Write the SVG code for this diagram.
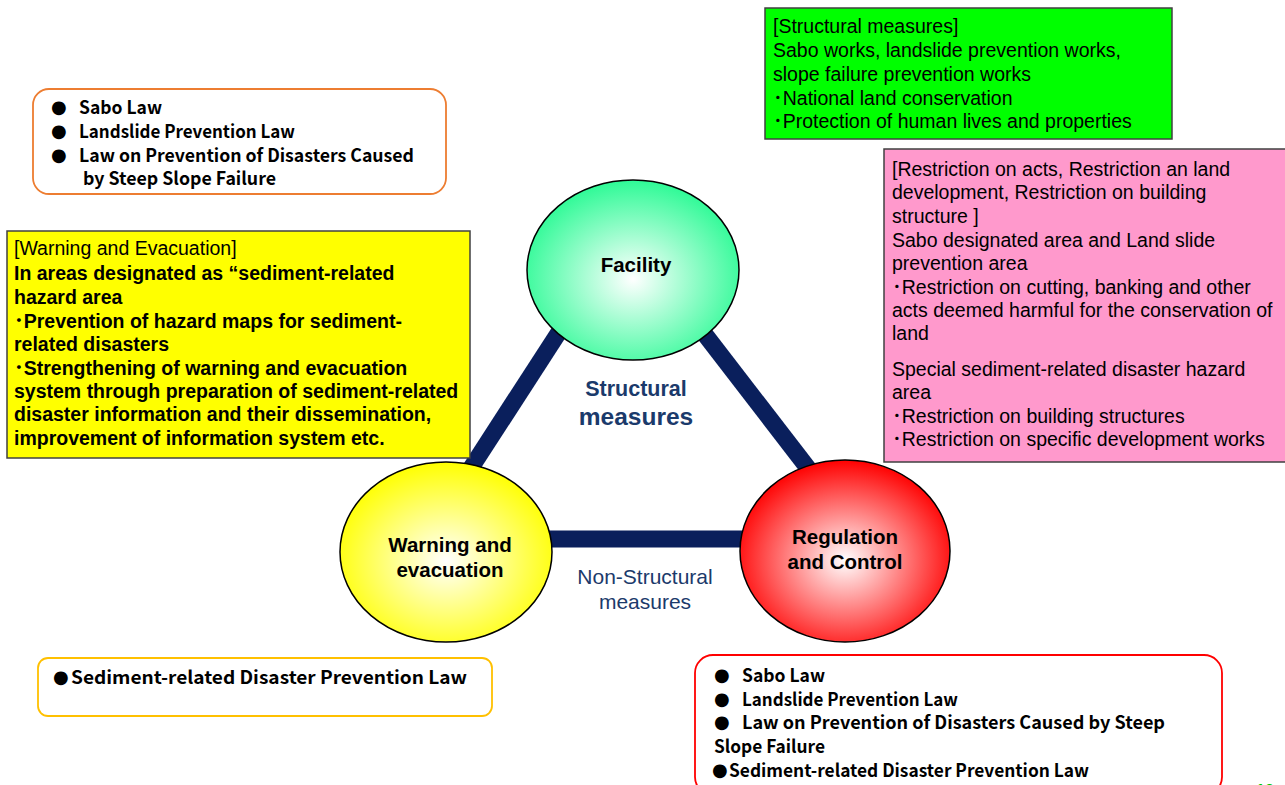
<svg xmlns="http://www.w3.org/2000/svg" width="1285" height="785" viewBox="0 0 1285 785">
  <style>
    .box { stroke: #404040; stroke-width: 1.5; }
    .law { fill: #FFFFFF; stroke-width: 1.8; }
    .gothic { font-family: "Noto Sans CJK JP", "Liberation Sans", sans-serif; font-size: 18px; font-weight: bold; fill: #000; }
    .dot { font-family: "DejaVu Sans", sans-serif; font-size: 18px; fill: #000; }
    .txt { font-family: "Liberation Sans", "Noto Sans CJK JP", sans-serif; font-size: 19.5px; fill: #000; }
    .bold { font-weight: bold; }
    .node { stroke: #000; stroke-width: 1.5; }
    .nodelabel { font-family: "Liberation Sans", Arial, sans-serif; font-size: 20.5px; font-weight: bold; fill: #000; text-anchor: middle; }
    .edge { stroke: #0A1F5C; stroke-width: 17; stroke-linecap: butt; fill: none; }
    .edgelabel { font-family: "Liberation Sans", Arial, sans-serif; fill: #1B3A6B; text-anchor: middle; }
  </style>
  <defs>
    <radialGradient id="gGreen" cx="50%" cy="55%" r="55%">
      <stop offset="0" stop-color="#FFFFFF"/>
      <stop offset="1" stop-color="#2EFA96"/>
    </radialGradient>
    <radialGradient id="gYellow" cx="50%" cy="55%" r="55%">
      <stop offset="0" stop-color="#FFFFFF"/>
      <stop offset="1" stop-color="#FFFF00"/>
    </radialGradient>
    <radialGradient id="gRed" cx="50%" cy="55%" r="55%">
      <stop offset="0" stop-color="#FFFFFF"/>
      <stop offset="1" stop-color="#FF0000"/>
    </radialGradient>
  </defs>

  <rect x="0" y="0" width="1285" height="785" fill="#FFFFFF"/>

  <!-- connectors of the triangle -->
  <g id="connectors">
    <line class="edge" x1="572" y1="312" x2="458" y2="488"/>
    <line class="edge" x1="690" y1="315" x2="824" y2="489"/>
    <line class="edge" x1="540" y1="539" x2="752" y2="539"/>
  </g>

  <!-- edge labels -->
  <g id="label-structural">
    <text class="edgelabel" x="636" y="396" font-size="21.5" font-weight="bold">Structural</text>
    <text class="edgelabel" x="636" y="425" font-size="24.5" font-weight="bold">measures</text>
  </g>
  <g id="label-nonstructural">
    <text class="edgelabel" x="645" y="584" font-size="21">Non-Structural</text>
    <text class="edgelabel" x="645" y="609" font-size="21">measures</text>
  </g>

  <!-- triangle nodes -->
  <g id="node-facility">
    <ellipse class="node" cx="633" cy="270" rx="106" ry="90" fill="url(#gGreen)"/>
    <text class="nodelabel" x="636" y="272">Facility</text>
  </g>
  <g id="node-warning">
    <ellipse class="node" cx="446" cy="552" rx="106" ry="90" fill="url(#gYellow)"/>
    <text class="nodelabel" x="450" y="552">Warning and</text>
    <text class="nodelabel" x="450" y="577">evacuation</text>
  </g>
  <g id="node-regulation">
    <ellipse class="node" cx="845" cy="551" rx="105" ry="91" fill="url(#gRed)"/>
    <text class="nodelabel" x="845" y="544">Regulation</text>
    <text class="nodelabel" x="845" y="569">and Control</text>
  </g>

  <!-- laws for structural measures -->
  <g id="laws-structural">
    <rect class="law" x="33" y="89" width="413" height="105" rx="16" stroke="#ED7D31"/>
    <text class="dot" x="51" y="113">●</text>
    <text class="gothic" x="79" y="114" textLength="83" lengthAdjust="spacingAndGlyphs">Sabo Law</text>
    <text class="dot" x="51" y="137">●</text>
    <text class="gothic" x="79" y="138" textLength="216" lengthAdjust="spacingAndGlyphs">Landslide Prevention Law</text>
    <text class="dot" x="51" y="161">●</text>
    <text class="gothic" x="79" y="162" textLength="335" lengthAdjust="spacingAndGlyphs">Law on Prevention of Disasters Caused</text>
    <text class="gothic" x="83" y="185" textLength="193" lengthAdjust="spacingAndGlyphs">by Steep Slope Failure</text>
  </g>

  <!-- warning and evacuation details -->
  <g id="box-warning">
    <rect class="box" x="7" y="231" width="463" height="227" fill="#FFFF00"/>
    <text class="txt" x="14" y="255">[Warning and Evacuation]</text>
    <text class="txt bold" x="14" y="280">In areas designated as “sediment-related</text>
    <text class="txt bold" x="14" y="304">hazard area</text>
    <text class="txt bold" x="14" y="328">･Prevention of hazard maps for sediment-</text>
    <text class="txt bold" x="14" y="351">related disasters</text>
    <text class="txt bold" x="14" y="375">･Strengthening of warning and evacuation</text>
    <text class="txt bold" x="14" y="398">system through preparation of sediment-related</text>
    <text class="txt bold" x="14" y="421">disaster information and their dissemination,</text>
    <text class="txt bold" x="14" y="445">improvement of information system etc.</text>
  </g>

  <!-- structural measures details -->
  <g id="box-structural">
    <rect class="box" x="765" y="8" width="407" height="131" fill="#00FF00"/>
    <text class="txt" x="773" y="33">[Structural measures]</text>
    <text class="txt" x="773" y="57">Sabo works, landslide prevention works,</text>
    <text class="txt" x="773" y="81">slope failure prevention works</text>
    <text class="txt" x="773" y="105">･National land conservation</text>
    <text class="txt" x="773" y="128">･Protection of human lives and properties</text>
  </g>

  <!-- regulation details -->
  <g id="box-regulation">
    <rect class="box" x="884" y="149" width="402" height="313" fill="#FF99CC"/>
    <text class="txt" x="892" y="176">[Restriction on acts, Restriction an land</text>
    <text class="txt" x="892" y="199">development, Restriction on building</text>
    <text class="txt" x="892" y="223">structure ]</text>
    <text class="txt" x="892" y="247">Sabo designated area and Land slide</text>
    <text class="txt" x="892" y="270">prevention area</text>
    <text class="txt" x="892" y="294">･Restriction on cutting, banking and other</text>
    <text class="txt" x="892" y="317">acts deemed harmful for the conservation of</text>
    <text class="txt" x="892" y="340">land</text>
    <text class="txt" x="892" y="376">Special sediment-related disaster hazard</text>
    <text class="txt" x="892" y="399">area</text>
    <text class="txt" x="892" y="423">･Restriction on building structures</text>
    <text class="txt" x="892" y="446">･Restriction on specific development works</text>
  </g>

  <!-- laws for warning and evacuation -->
  <g id="laws-warning">
    <rect class="law" x="38" y="658" width="454" height="58" rx="10" stroke="#FFC000"/>
    <text class="dot" x="53" y="683">●</text>
    <text class="gothic" x="71" y="684" textLength="396" lengthAdjust="spacingAndGlyphs">Sediment-related Disaster Prevention Law</text>
  </g>

  <!-- laws for regulation and control -->
  <g id="laws-regulation">
    <rect class="law" x="695" y="655" width="527" height="140" rx="18" stroke="#FF0000"/>
    <text class="dot" x="714" y="681">●</text>
    <text class="gothic" x="742" y="682" textLength="83" lengthAdjust="spacingAndGlyphs">Sabo Law</text>
    <text class="dot" x="714" y="705">●</text>
    <text class="gothic" x="742" y="706" textLength="216" lengthAdjust="spacingAndGlyphs">Landslide Prevention Law</text>
    <text class="dot" x="714" y="728">●</text>
    <text class="gothic" x="742" y="729" textLength="423" lengthAdjust="spacingAndGlyphs">Law on Prevention of Disasters Caused by  Steep</text>
    <text class="gothic" x="714" y="753" textLength="111" lengthAdjust="spacingAndGlyphs">Slope Failure</text>
    <text class="dot" x="712" y="776">●</text>
    <text class="gothic" x="729" y="777" textLength="360" lengthAdjust="spacingAndGlyphs">Sediment-related Disaster Prevention Law</text>
  </g>

  <!-- page number -->
  <text x="1256" y="796" font-family="Liberation Sans, sans-serif" font-size="16" font-weight="bold" fill="#00CC00">12</text>
</svg>
